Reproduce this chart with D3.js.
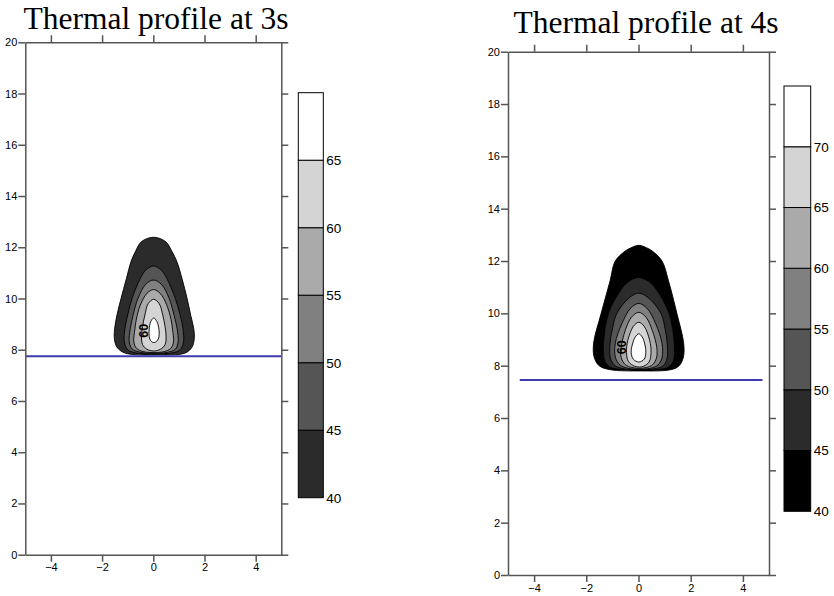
<!DOCTYPE html>
<html>
<head>
<meta charset="utf-8">
<script src="https://cdn.jsdelivr.net/npm/d3@7"></script>
<style>
  html, body { margin: 0; padding: 0; background: #fff; }
  svg { display: block; }
  .tick text { font-family: "Liberation Sans", Arial, sans-serif; font-size: 11px; fill: #000; }
  .domain, .tick line { stroke: #555; stroke-width: 1.5; }
</style>
</head>
<body>
<svg id="chart" width="834" height="596"></svg>
<script>
// ---------------- DATA ----------------
const titles = ["Thermal profile at 3s", "Thermal profile at 4s"];
const xTicks = [-4, -2, 0, 2, 4];
const yTicks = [0, 2, 4, 6, 8, 10, 12, 14, 16, 18, 20];

// colour-bar levels
const levels3 = [40, 45, 50, 55, 60, 65, 70];
const levels4 = [40, 45, 50, 55, 60, 65, 70, 75];
const barLabels3 = [40, 45, 50, 55, 60, 65];
const barLabels4 = [40, 45, 50, 55, 60, 65, 70];
const bandColors3 = ["#2b2b2b", "#555555", "#808080", "#aaaaaa", "#d4d4d4", "#ffffff"];
const bandColors4 = ["#000000", "#2b2b2b", "#555555", "#808080", "#aaaaaa", "#d4d4d4", "#ffffff"];

// interface line (y value, x extent)
const interface3 = { y: 7.75, x0: -5, x1: 5 };
const interface4 = { y: 7.45, x0: -4.55, x1: 4.75 };

// contour outlines: top y, rows [y, xLeft, xRight] (top->bottom), bottom y
const contours3 = [
  { level: 40, top: 12.39, bottom: 7.80, rows: [[12.22,-0.46,0.48],[11.83,-0.70,0.73],[11.44,-0.87,0.92],[10.78,-1.05,1.12],[10.0,-1.26,1.32],[9.35,-1.42,1.46],[8.82,-1.51,1.58],[8.43,-1.52,1.60],[8.10,-1.42,1.51],[7.87,-1.10,1.24]] },
  { level: 45, top: 11.27, bottom: 7.83, rows: [[11.10,-0.30,0.32],[10.78,-0.51,0.53],[10.0,-0.83,0.86],[9.35,-1.00,1.05],[8.82,-1.11,1.16],[8.30,-1.13,1.18],[8.00,-1.00,1.05],[7.88,-0.70,0.75]] },
  { level: 50, top: 10.72, bottom: 7.86, rows: [[10.55,-0.30,0.32],[10.0,-0.60,0.62],[9.35,-0.79,0.81],[8.82,-0.90,0.93],[8.30,-0.94,0.97],[8.02,-0.82,0.86],[7.90,-0.50,0.55]] },
  { level: 55, top: 10.35, bottom: 7.89, rows: [[10.20,-0.25,0.27],[9.74,-0.51,0.53],[9.20,-0.66,0.69],[8.80,-0.72,0.75],[8.30,-0.76,0.79],[8.05,-0.65,0.68],[7.93,-0.40,0.43]] },
  { level: 60, top: 9.97, bottom: 7.95, rows: [[9.80,-0.20,0.23],[9.35,-0.33,0.37],[8.90,-0.42,0.46],[8.50,-0.46,0.50],[8.20,-0.42,0.46],[8.02,-0.25,0.28]] },
  { level: 65, top: 9.24, bottom: 8.28, rows: [[9.10,-0.10,0.14],[8.80,-0.16,0.22],[8.50,-0.16,0.22],[8.35,-0.10,0.15]] }
];
const contours4 = [
  { level: 40, top: 12.60, bottom: 7.80, rows: [[12.50,-0.30,0.32],[12.38,-0.51,0.53],[12.0,-0.89,0.90],[11.24,-1.09,1.15],[10.0,-1.43,1.47],[8.86,-1.72,1.73],[8.33,-1.70,1.72],[8.00,-1.51,1.56],[7.85,-1.10,1.25]] },
  { level: 45, top: 11.37, bottom: 7.83, rows: [[11.20,-0.40,0.42],[10.86,-0.70,0.72],[10.0,-1.15,1.17],[8.86,-1.34,1.37],[8.20,-1.30,1.34],[7.95,-1.10,1.15],[7.86,-0.70,0.80]] },
  { level: 50, top: 10.77, bottom: 7.85, rows: [[10.60,-0.35,0.37],[10.0,-0.83,0.86],[9.40,-1.00,1.02],[8.86,-1.09,1.10],[8.30,-1.08,1.10],[8.00,-0.90,0.95],[7.88,-0.55,0.60]] },
  { level: 55, top: 10.38, bottom: 7.87, rows: [[10.20,-0.30,0.32],[9.60,-0.64,0.66],[8.85,-0.89,0.90],[8.30,-0.88,0.90],[8.02,-0.70,0.74],[7.90,-0.40,0.45]] },
  { level: 60, top: 10.04, bottom: 7.90, rows: [[9.85,-0.27,0.29],[9.34,-0.51,0.53],[8.70,-0.66,0.70],[8.30,-0.66,0.69],[8.04,-0.50,0.54],[7.93,-0.25,0.30]] },
  { level: 65, top: 9.66, bottom: 7.95, rows: [[9.50,-0.20,0.22],[8.96,-0.41,0.43],[8.50,-0.46,0.48],[8.15,-0.38,0.41],[7.98,-0.15,0.20]] },
  { level: 70, top: 9.22, bottom: 8.14, rows: [[9.10,-0.12,0.14],[8.83,-0.23,0.24],[8.50,-0.28,0.28],[8.25,-0.20,0.22]] }
];
const labels3 = [{ text: "60", x: -0.39, y: 8.74 }];
const labels4 = [{ text: "60", x: -0.64, y: 8.70 }];

// ---------------- LAYOUT ----------------
const panels = [
  { title: titles[0], titleX: 156, titleY: 28.5,
    xr: [25.3, 281.3], yr: [554.7, 42.3],
    bar: { x0: 298.3, x1: 323.3, y0: 497.7, y1: 92.7 },
    levels: levels3, barLabels: barLabels3, colors: bandColors3,
    contours: contours3, labels: labels3, iface: interface3 },
  { title: titles[1], titleX: 646, titleY: 33.3,
    xr: [508, 769], yr: [575, 51.7],
    bar: { x0: 784, x1: 810.7, y0: 511.3, y1: 86 },
    levels: levels4, barLabels: barLabels4, colors: bandColors4,
    contours: contours4, labels: labels4, iface: interface4 }
];

const svg = d3.select("#chart");

function outline(c) {
  const pts = [];
  const last = c.rows[c.rows.length - 1];
  const first = c.rows[0];
  pts.push([(last[1] + last[2]) / 2, c.bottom]);
  for (let i = c.rows.length - 1; i >= 0; i--) pts.push([c.rows[i][1], c.rows[i][0]]);
  pts.push([(first[1] + first[2]) / 2, c.top]);
  for (let i = 0; i < c.rows.length; i++) pts.push([c.rows[i][2], c.rows[i][0]]);
  return pts;
}

panels.forEach(p => {
  const x = d3.scaleLinear().domain([-5, 5]).range(p.xr);
  const y = d3.scaleLinear().domain([0, 20]).range(p.yr);
  const g = svg.append("g");

  // title
  g.append("text")
    .attr("x", p.titleX).attr("y", p.titleY)
    .attr("text-anchor", "middle")
    .style("font-family", "'Liberation Serif', 'Times New Roman', serif")
    .style("font-size", "31.5px")
    .text(p.title);

  // contours
  const line = d3.line().x(d => x(d[0])).y(d => y(d[1]))
    .curve(d3.curveCatmullRomClosed.alpha(0.5));
  const colorOf = d3.scaleThreshold()
    .domain(p.levels.slice(1, -1))
    .range(p.colors);
  g.selectAll("path.contour").data(p.contours).join("path")
    .attr("class", "contour")
    .attr("d", c => line(outline(c)))
    .attr("fill", c => colorOf(c.level))
    .attr("stroke", "#000")
    .attr("stroke-width", 0.9);

  // contour labels
  g.selectAll("text.clabel").data(p.labels).join("text")
    .attr("class", "clabel")
    .attr("transform", d => `translate(${x(d.x)},${y(d.y)}) rotate(-90)`)
    .attr("text-anchor", "middle")
    .attr("dy", "0.35em")
    .style("font-family", "'Liberation Sans', Arial, sans-serif")
    .style("font-size", "12.5px")
    .style("font-weight", "bold")
    .text(d => d.text);

  // interface line
  g.append("line")
    .attr("x1", x(p.iface.x0)).attr("x2", x(p.iface.x1))
    .attr("y1", y(p.iface.y)).attr("y2", y(p.iface.y))
    .attr("stroke", "#3d3db0").attr("stroke-width", 2);

  // axes (ticks outward on all four sides)
  g.append("g").attr("transform", `translate(0,${p.yr[0]})`)
    .call(d3.axisBottom(x).tickValues(xTicks).tickSize(7).tickSizeOuter(0).tickPadding(2).tickFormat(d3.format("d")));
  g.append("g").attr("transform", `translate(0,${p.yr[1]})`)
    .call(d3.axisTop(x).tickValues(xTicks).tickSize(7).tickSizeOuter(0).tickFormat(""));
  g.append("g").attr("transform", `translate(${p.xr[0]},0)`)
    .call(d3.axisLeft(y).tickValues(yTicks).tickSize(7).tickSizeOuter(0).tickPadding(1).tickFormat(d3.format("d")));
  g.append("g").attr("transform", `translate(${p.xr[1]},0)`)
    .call(d3.axisRight(y).tickValues(yTicks).tickSize(7).tickSizeOuter(0).tickFormat(""));

  // colour bar
  const cb = d3.scaleLinear()
    .domain([p.levels[0], p.levels[p.levels.length - 1]])
    .range([p.bar.y0, p.bar.y1]);
  const bands = p.colors.map((c, i) => ({ lo: p.levels[i], hi: p.levels[i + 1], color: c }));
  g.selectAll("rect.band").data(bands).join("rect")
    .attr("class", "band")
    .attr("x", p.bar.x0).attr("width", p.bar.x1 - p.bar.x0)
    .attr("y", d => cb(d.hi)).attr("height", d => cb(d.lo) - cb(d.hi))
    .attr("fill", d => d.color)
    .attr("stroke", "#000").attr("stroke-width", 1);
  g.selectAll("text.blabel").data(p.barLabels).join("text")
    .attr("class", "blabel")
    .attr("x", p.bar.x1 + 3).attr("y", d => cb(d))
    .attr("dy", "0.36em")
    .style("font-family", "'Liberation Sans', Arial, sans-serif")
    .style("font-size", "13.5px")
    .text(d => d);
});
</script>
</body>
</html>
